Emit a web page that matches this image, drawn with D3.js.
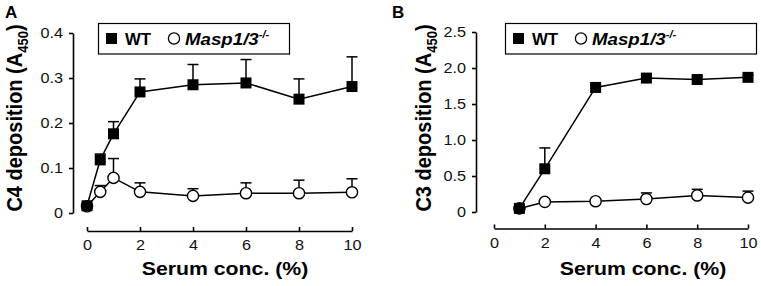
<!DOCTYPE html>
<html><head><meta charset="utf-8">
<script src="https://cdn.jsdelivr.net/npm/d3@7"></script>
<style>
body{margin:0;background:#fff}
svg{display:block;font-family:"Liberation Sans",Arial,sans-serif}
</style></head><body>
<svg id="fig" width="761" height="286"></svg>
<script>
// Data
var concA = [0, 0.5, 1, 2, 4, 6, 8, 10];
var c4WT = [0.016, 0.118, 0.176, 0.269, 0.285, 0.289, 0.253, 0.281];
var c4WTerr = [0.004, 0.013, 0.027, 0.029, 0.045, 0.052, 0.045, 0.066];
var c4KO = [0.015, 0.047, 0.078, 0.047, 0.038, 0.044, 0.044, 0.046];
var c4KOerr = [0.003, 0.014, 0.043, 0.02, 0.016, 0.023, 0.029, 0.03];

var concB = [1, 2, 4, 6, 8, 10];
var c3WT = [0.05, 0.6, 1.73, 1.86, 1.84, 1.87];
var c3WTerr = [0.02, 0.29, 0.03, 0.04, 0.04, 0.03];
var c3KO = [0.05, 0.14, 0.15, 0.18, 0.23, 0.2];
var c3KOerr = [0.02, 0.02, 0.02, 0.085, 0.085, 0.09];

var yTicksA = [0, 0.1, 0.2, 0.3, 0.4];
var yTicksB = [0, 0.5, 1.0, 1.5, 2.0, 2.5];
var xTicks = [0, 2, 4, 6, 8, 10];
var seriesNames = ['WT', 'Masp1/3'];

var svg = d3.select('#fig');
var sx = 1.12; // the original text is a bit wide

function fmt(d) { return d === 0 ? '0' : d3.format('.1f')(d); }

function panel(o) {
    var g = svg.append('g');
    var x = d3.scaleLinear().domain([0, 10]).range(o.xr);
    var y = d3.scaleLinear().domain(o.yd).range(o.yr);

    // y axis, ticks outward
    var ya = g.append('g')
        .attr('transform', 'translate(' + o.yx + ',0)')
        .call(d3.axisLeft(y).tickValues(o.yt).tickSize(4).tickSizeOuter(0).tickPadding(5).tickFormat(fmt));
    // x axis sits apart, ticks point up
    var xa = g.append('g')
        .attr('transform', 'translate(0,' + o.xy + ')')
        .call(d3.axisBottom(x).tickValues(xTicks).tickSize(-4).tickSizeOuter(0).tickPadding(9));
    [ya, xa].forEach(function(a) {
        a.select('.domain').attr('stroke', '#000').attr('stroke-width', 1.6);
        a.selectAll('.tick line').attr('stroke', '#000').attr('stroke-width', 1.6);
        a.selectAll('.tick text').attr('fill', '#111')
            .style('font-family', '"Liberation Sans",Arial,sans-serif').style('font-size', '14.5px')
            .attr('transform', 'scale(' + sx + ',1)');
    });

    // error bars, upper only
    function bars(xs, vals, errs) {
        var eb = g.append('g').attr('stroke', '#000').attr('stroke-width', 1.5);
        xs.forEach(function(c, i) {
            var top = y(vals[i] + errs[i]);
            eb.append('line').attr('x1', x(c)).attr('x2', x(c)).attr('y1', y(vals[i])).attr('y2', top);
            eb.append('line').attr('x1', x(c) - 5.5).attr('x2', x(c) + 5.5).attr('y1', top).attr('y2', top);
        });
    }
    bars(o.cx, o.ko, o.koErr);
    bars(o.cx, o.wt, o.wtErr);

    var line = d3.line().x(function(d) { return x(d[0]); }).y(function(d) { return y(d[1]); });
    g.append('path').datum(d3.zip(o.cx, o.ko)).attr('d', line)
        .attr('fill', 'none').attr('stroke', '#000').attr('stroke-width', 1.5);
    g.append('path').datum(d3.zip(o.cx, o.wt)).attr('d', line)
        .attr('fill', 'none').attr('stroke', '#000').attr('stroke-width', 1.5);

    g.selectAll('.ko').data(d3.zip(o.cx, o.ko)).enter().append('circle')
        .attr('cx', function(d) { return x(d[0]); }).attr('cy', function(d) { return y(d[1]); })
        .attr('r', 5.6).attr('fill', '#fff').attr('stroke', '#000').attr('stroke-width', 1.4);
    g.selectAll('.wt').data(d3.zip(o.cx, o.wt)).enter().append('rect')
        .attr('x', function(d) { return x(d[0]) - 5.5; }).attr('y', function(d) { return y(d[1]) - 5.5; })
        .attr('width', 11).attr('height', 11).attr('fill', '#000');

    // titles
    g.append('text').attr('transform', 'translate(' + o.xtx + ',275) scale(' + sx + ',1)')
        .attr('text-anchor', 'middle').style('font-size', '19px').style('font-weight', 'bold')
        .text('Serum conc. (%)');
    var yt = g.append('text').attr('transform', 'translate(' + o.ytx + ',118) scale(' + sx + ',1) rotate(-90)')
        .attr('text-anchor', 'middle').style('font-size', '20px').style('font-weight', 'bold');
    yt.append('tspan').text(o.ylab + ' deposition (A');
    yt.append('tspan').attr('dy', 5).style('font-size', '13px').text('450');
    yt.append('tspan').attr('dy', -5).text(')');
    g.append('text').attr('x', o.lx).attr('y', 18).style('font-size', '17px').style('font-weight', 'bold')
        .text(o.letter);

    // legend
    var lg = g.append('g').attr('transform', 'translate(' + o.lgx + ',23)');
    lg.append('rect').attr('x', 0.5).attr('y', 0.5).attr('width', o.lgw).attr('height', 30.5)
        .attr('fill', '#fff').attr('stroke', '#000').attr('stroke-width', 1.2);
    lg.append('rect').attr('x', 8).attr('y', 10).attr('width', 11).attr('height', 11).attr('fill', '#000');
    lg.append('text').attr('transform', 'translate(27,21.5) scale(1.05,1)')
        .style('font-size', '16px').style('font-weight', 'bold').text(seriesNames[0]);
    lg.append('circle').attr('cx', 76).attr('cy', 15.5).attr('r', 5.6)
        .attr('fill', '#fff').attr('stroke', '#000').attr('stroke-width', 1.3);
    var kt = lg.append('text').attr('transform', 'translate(87,21.5) scale(1.1,1)')
        .style('font-size', '17px').style('font-weight', 'bold').style('font-style', 'italic');
    kt.append('tspan').text(seriesNames[1]);
    kt.append('tspan').attr('dy', -7).style('font-size', '10px').text('-/-');
}

panel({
    xr: [87, 352], xy: 231, yx: 73, yd: [0, 0.4], yr: [213, 33], yt: yTicksA,
    cx: concA, wt: c4WT, wtErr: c4WTerr, ko: c4KO, koErr: c4KOerr,
    xtx: 225, ytx: 22, ylab: 'C4', letter: 'A', lx: 5, lgx: 98, lgw: 191
});
panel({
    xr: [494, 748], xy: 228.5, yx: 476, yd: [0, 2.5], yr: [212, 32], yt: yTicksB,
    cx: concB, wt: c3WT, wtErr: c3WTerr, ko: c3KO, koErr: c3KOerr,
    xtx: 643, ytx: 431, ylab: 'C3', letter: 'B', lx: 392, lgx: 505, lgw: 251
});
</script>
</body></html>
